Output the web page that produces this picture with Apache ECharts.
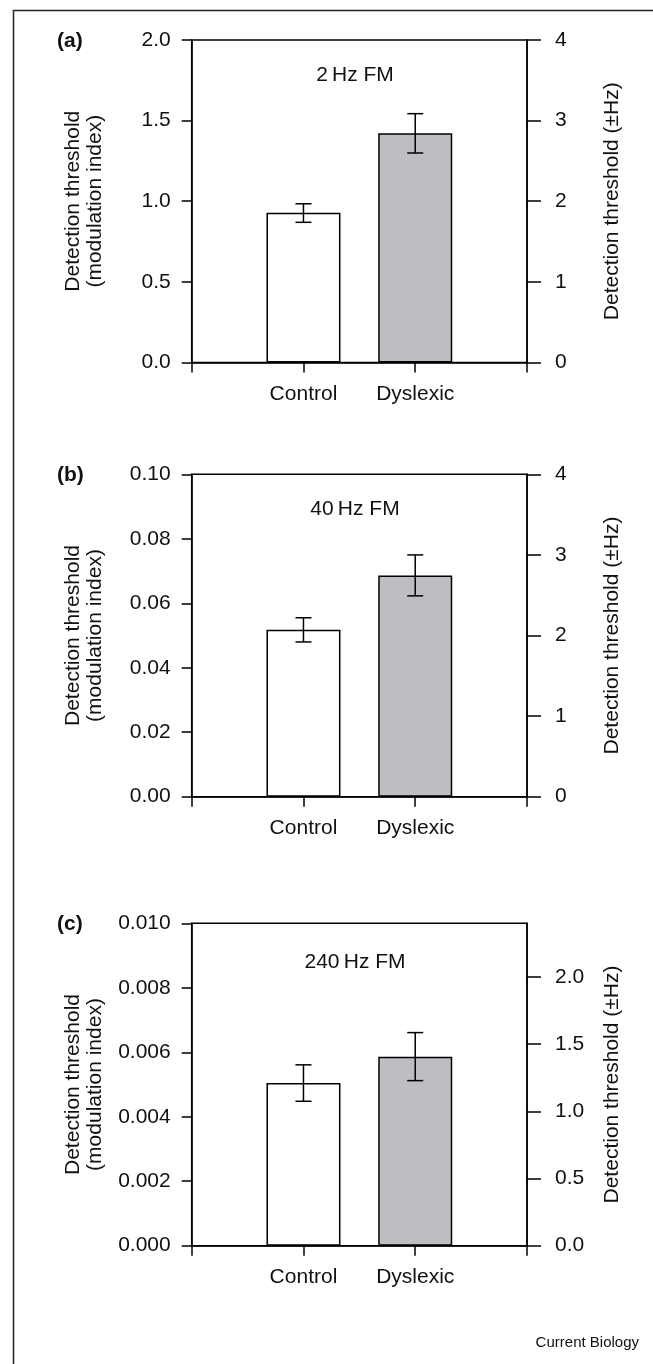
<!DOCTYPE html>
<html>
<head>
<meta charset="utf-8">
<script src="https://cdn.jsdelivr.net/npm/echarts@6/dist/echarts.min.js"></script>
<style>
html,body{margin:0;padding:0;background:#fff;}
#chart{width:653px;height:1364px;}
</style>
</head>
<body>
<div id="chart"></div>
<script>
// ---- data ----
const categories = ['Control', 'Dyslexic'];
const panelLetters = ['(a)', '(b)', '(c)'];
const panelTitles = ['2\u2009Hz FM', '40\u2009Hz FM', '240\u2009Hz FM'];
// mean detection thresholds (modulation index)
const meansA = [0.928, 1.421];
const meansB = [0.0518, 0.0686];
const meansC = [0.00505, 0.00586];
// error bar [low, high]
const errA = [[0.869, 0.984], [1.299, 1.543]];
const errB = [[0.0480, 0.0555], [0.0623, 0.0750]];
const errC = [[0.00448, 0.00561], [0.00512, 0.00661]];
// left axis ranges
const leftMax = [2.0, 0.10, 0.010];
const leftStep = [0.5, 0.02, 0.002];
const leftDecimals = [1, 2, 3];
// right axis (±Hz)
const rightMax = [4, 4, 2.4];
const rightTicks = [[0, 1, 2, 3, 4], [0, 1, 2, 3, 4], [0, 0.5, 1.0, 1.5, 2.0]];
const rightDecimals = [0, 0, 1];
const barColors = ['#ffffff', '#bdbec1'];

const means = [meansA, meansB, meansC];
const errs = [errA, errB, errC];

// ---- layout ----
const FONT = 'Liberation Sans, Arial, sans-serif';
const FS = 21;
const TXT = '#111';
const gridTops = [40, 474.3, 923.3];
const gridH = 322.4;
const gridLeft = 191.7;
const gridRight = 126;

const chart = echarts.init(document.getElementById('chart'), null, {renderer: 'canvas'});

const grids = [], xAxes = [], yAxes = [], series = [], graphics = [];

gridTops.forEach((top, i) => {
  grids.push({left: gridLeft, right: gridRight, top: top, height: gridH,
    show: true, borderColor: '#000', borderWidth: 1.5, backgroundColor: 'transparent'});
  xAxes.push({
    type: 'value', gridIndex: i, min: 0, max: 3, interval: 1,
    axisLine: {show: true, onZero: false, lineStyle: {color: '#000', width: 1.5}},
    axisTick: {show: true, length: 10, lineStyle: {color: '#000', width: 1.5}},
    splitLine: {show: false},
    axisLabel: {
      margin: 21, color: TXT, fontFamily: FONT, fontSize: FS,
      formatter: v => (v >= 1 && v <= categories.length) ? categories[v - 1] : ''
    }
  });
  yAxes.push({
    type: 'value', gridIndex: i, position: 'left', min: 0, max: leftMax[i], interval: leftStep[i],
    axisLine: {show: true, lineStyle: {color: '#000', width: 1.5}},
    axisTick: {show: true, length: 10, lineStyle: {color: '#000', width: 1.5}},
    splitLine: {show: false},
    axisLabel: {margin: 21, color: TXT, fontFamily: FONT, fontSize: FS,
      formatter: v => v.toFixed(leftDecimals[i])},
    name: 'Detection threshold\n(modulation index)',
    nameLocation: 'middle', nameRotate: 90, nameGap: 85,
    nameTextStyle: {color: TXT, fontFamily: FONT, fontSize: FS, lineHeight: 22.5, align: 'center'}
  });
  yAxes.push({
    type: 'value', gridIndex: i, position: 'right', min: 0, max: rightMax[i],
    interval: rightTicks[i][1] - rightTicks[i][0],
    axisLine: {show: true, lineStyle: {color: '#000', width: 1.5}},
    axisTick: {show: true, length: 14, customValues: rightTicks[i], lineStyle: {color: '#000', width: 1.5}},
    splitLine: {show: false},
    axisLabel: {margin: 28, color: TXT, fontFamily: FONT, fontSize: FS, customValues: rightTicks[i],
      formatter: v => Number(v).toFixed(rightDecimals[i])},
    name: 'Detection threshold (\u00b1Hz)',
    nameLocation: 'middle', nameRotate: 90, nameGap: 75,
    nameTextStyle: {color: TXT, fontFamily: FONT, fontSize: FS}
  });

  series.push({
    type: 'bar', xAxisIndex: i, yAxisIndex: 2 * i, barWidth: 74,
    silent: true,
    data: means[i].map((v, k) => ({value: [k + 1, v],
      itemStyle: {color: barColors[k], borderColor: '#000', borderWidth: 1.5}})),
    z: 2
  });
  series.push({
    type: 'custom', xAxisIndex: i, yAxisIndex: 2 * i, silent: true, z: 5,
    data: errs[i].map((e, k) => [k + 1, e[0], e[1]]),
    renderItem: function (params, api) {
      const x = api.value(0);
      const lo = api.coord([x, api.value(1)]);
      const hi = api.coord([x, api.value(2)]);
      const hw = 8;
      const st = {stroke: '#000', lineWidth: 1.5};
      return {type: 'group', children: [
        {type: 'line', shape: {x1: lo[0], y1: lo[1], x2: hi[0], y2: hi[1]}, style: st},
        {type: 'line', shape: {x1: hi[0] - hw, y1: hi[1], x2: hi[0] + hw, y2: hi[1]}, style: st},
        {type: 'line', shape: {x1: lo[0] - hw, y1: lo[1], x2: lo[0] + hw, y2: lo[1]}, style: st}
      ]};
    }
  });

  graphics.push({type: 'text', x: 57, y: top + 1,
    style: {text: panelLetters[i], fill: TXT, font: 'bold ' + FS + 'px ' + FONT, textVerticalAlign: 'middle'}});
  graphics.push({type: 'text', x: 355, y: top + 35 + (i === 2 ? 4 : 0),
    style: {text: panelTitles[i], fill: TXT, font: FS + 'px ' + FONT, textAlign: 'center', textVerticalAlign: 'middle'}});
});

// outer frame (left and top edges)
graphics.push({type: 'polyline', shape: {points: [[13.5, 1364], [13.5, 10.5], [653, 10.5]]},
  style: {stroke: '#222', lineWidth: 1.5, fill: null}});
graphics.push({type: 'text', x: 639, y: 1343,
  style: {text: 'Current Biology', fill: TXT, font: '15px ' + FONT, textAlign: 'right', textVerticalAlign: 'middle'}});

chart.setOption({
  animation: false,
  backgroundColor: '#fff',
  grid: grids, xAxis: xAxes, yAxis: yAxes, series: series, graphic: graphics
});
</script>
</body>
</html>
